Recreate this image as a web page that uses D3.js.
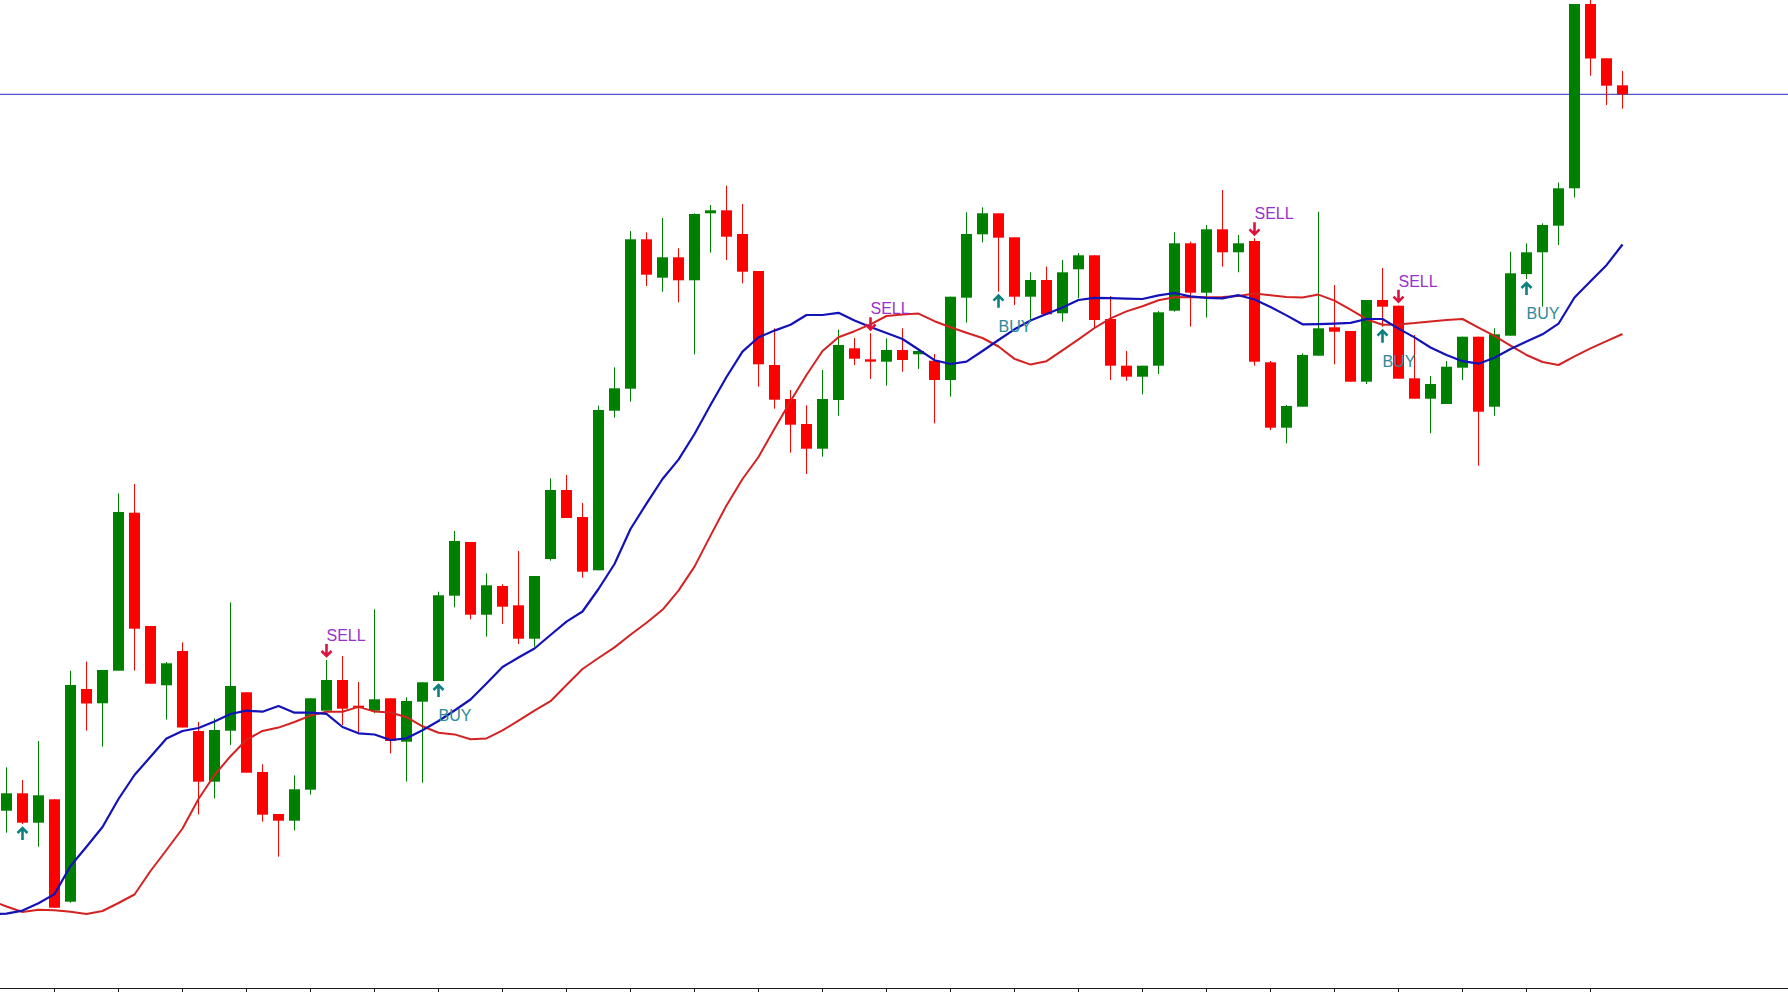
<!DOCTYPE html>
<html>
<head>
<meta charset="utf-8">
<script src="https://cdn.jsdelivr.net/npm/d3@7"></script>
<style>
  html, body { margin: 0; padding: 0; background: #fff; }
  svg { display: block; }
</style>
</head>
<body>
<div id="chart"></div>
<script>
// OHLC per bar, bar index 0..101
const opens = [
  18.93, 20.67, 17.73, 20.07, 9.83, 31.10, 29.67, 32.93, 48.73, 37.40,
  31.47, 34.90, 26.90, 21.83, 26.93, 30.77, 22.80, 18.60, 17.93, 21.03,
  28.93, 32.00, 29.43, 28.93, 30.17, 25.83, 29.83, 31.90, 40.43, 45.80,
  38.53, 41.40, 39.47, 36.13, 44.10, 51.00, 48.30, 42.97, 58.93, 61.13,
  76.07, 72.23, 74.27, 71.97, 78.67, 78.97, 76.60, 72.90, 63.50, 60.10,
  57.60, 55.13, 60.00, 65.17, 64.07, 63.83, 65.00, 64.57, 63.93, 62.00,
  70.23, 76.57, 78.67, 76.27, 70.33, 72.00, 68.67, 73.07, 74.47, 68.10,
  63.43, 62.33, 63.43, 68.93, 75.67, 70.73, 77.07, 74.77, 75.90, 63.77,
  57.23, 59.33, 64.43, 67.27, 66.90, 61.83, 70.00, 69.43, 62.17, 60.13,
  59.60, 63.23, 66.33, 59.33, 66.43, 72.60, 74.77, 77.43, 81.17, 99.60,
  94.17, 91.47
];
const highs = [
  23.27, 22.00, 25.90, 20.07, 32.93, 33.85, 33.00, 50.67, 51.60, 37.40,
  33.80, 35.77, 27.80, 28.17, 39.77, 30.77, 23.57, 18.60, 22.47, 30.17,
  34.00, 34.40, 31.80, 39.07, 30.17, 30.27, 31.77, 40.83, 46.90, 45.80,
  42.67, 41.57, 44.90, 42.40, 52.17, 52.50, 49.70, 59.43, 63.27, 76.90,
  76.77, 78.20, 75.17, 78.67, 79.50, 81.43, 79.60, 72.90, 67.17, 61.00,
  59.47, 63.00, 67.03, 66.20, 66.67, 66.17, 67.17, 65.00, 64.60, 70.33,
  78.77, 79.27, 78.67, 76.27, 72.77, 73.33, 74.00, 74.70, 74.47, 70.40,
  64.90, 63.43, 68.90, 76.77, 75.83, 77.50, 81.00, 76.50, 76.17, 63.90,
  59.50, 64.67, 78.83, 71.50, 66.90, 70.00, 73.20, 69.43, 66.50, 62.40,
  63.90, 66.33, 66.33, 67.17, 74.83, 75.67, 77.67, 81.75, 99.60, 100.40,
  94.17, 92.90
];
const lows = [
  16.73, 17.60, 15.33, 9.23, 9.73, 26.93, 25.33, 32.93, 32.93, 31.63,
  28.05, 27.25, 18.57, 20.17, 25.50, 22.73, 17.83, 14.33, 16.97, 20.53,
  28.93, 27.50, 26.67, 28.67, 24.67, 21.83, 21.73, 31.90, 39.27, 38.07,
  36.33, 37.60, 35.60, 35.33, 43.93, 48.20, 42.23, 42.97, 58.23, 59.83,
  71.40, 70.83, 69.77, 64.57, 74.73, 74.00, 71.67, 61.33, 59.13, 54.73,
  52.60, 54.33, 58.43, 63.50, 62.10, 61.43, 62.83, 63.10, 57.67, 60.33,
  67.73, 75.77, 70.83, 69.50, 67.83, 68.57, 67.83, 70.17, 67.17, 62.00,
  61.93, 60.57, 62.60, 68.83, 67.33, 68.23, 73.33, 72.77, 63.43, 57.00,
  55.67, 59.33, 64.43, 63.57, 61.83, 61.60, 67.33, 62.13, 60.13, 56.67,
  59.60, 62.00, 53.43, 58.43, 66.43, 72.10, 69.33, 75.50, 80.25, 92.43,
  89.50, 89.13
];
const closes = [
  20.67, 17.73, 20.47, 9.23, 31.50, 29.65, 33.00, 48.80, 37.13, 31.63,
  33.67, 27.25, 21.83, 27.00, 31.40, 22.73, 18.53, 17.93, 21.07, 30.17,
  32.00, 29.13, 29.23, 30.07, 25.90, 29.90, 31.77, 40.47, 45.90, 38.53,
  41.47, 39.33, 36.13, 42.40, 51.00, 48.20, 42.83, 59.00, 61.17, 76.07,
  72.53, 74.27, 71.97, 78.60, 78.97, 76.33, 72.83, 63.57, 60.03, 57.53,
  55.13, 60.10, 65.50, 64.13, 63.83, 65.00, 64.00, 64.90, 62.00, 70.33,
  76.60, 78.67, 76.23, 70.33, 72.00, 68.57, 72.77, 74.47, 68.00, 63.43,
  62.33, 63.43, 68.77, 75.67, 70.73, 77.07, 74.77, 75.67, 63.83, 57.23,
  59.40, 64.50, 67.17, 66.83, 61.83, 70.00, 69.33, 62.13, 60.13, 61.60,
  63.33, 66.33, 58.83, 66.57, 72.67, 74.77, 77.50, 81.17, 99.60, 94.15,
  91.43, 90.57
];

// moving averages start one bar before the first visible candle (bar -1)
const maFirstBar = -1;
// fast moving average (blue)
const fastMA = [
  8.58,
  8.63, 8.94, 9.67, 10.59, 13.40, 15.33, 17.30, 20.10, 22.50, 24.32,
  26.15, 26.90, 27.20, 27.84, 28.60, 28.93, 28.83, 29.40, 28.73, 28.73,
  28.62, 27.30, 26.67, 26.55, 26.00, 26.17, 26.98, 27.90, 28.95, 30.05,
  31.65, 33.30, 34.25, 35.15, 36.50, 37.84, 38.85, 41.10, 43.60, 47.10,
  49.64, 52.10, 54.04, 56.60, 59.50, 62.30, 64.84, 66.27, 66.94, 67.53,
  68.50, 68.50, 68.72, 67.94, 67.31, 66.70, 66.10, 65.05, 63.98, 63.60,
  63.83, 64.90, 66.00, 67.07, 67.95, 68.60, 69.25, 70.00, 70.21, 70.18,
  70.14, 70.10, 70.46, 70.70, 70.36, 70.22, 70.17, 70.48, 70.05, 69.31,
  68.46, 67.57, 67.59, 67.64, 67.71, 68.10, 68.10, 67.14, 66.26, 65.25,
  64.50, 63.88, 63.63, 64.23, 65.10, 65.85, 66.57, 67.63, 70.25, 71.88,
  73.48, 75.55
];
// slow moving average (red)
const slowMA = [
  9.97,
  9.35, 8.80, 9.02, 8.98, 8.82, 8.60, 8.90, 9.70, 10.55, 12.90,
  15.00, 17.15, 20.10, 22.50, 24.38, 26.02, 26.91, 27.24, 27.80, 28.44,
  28.83, 28.83, 29.31, 28.84, 28.75, 28.28, 27.37, 26.72, 26.56, 26.07,
  26.16, 26.96, 27.93, 28.93, 29.88, 31.50, 33.10, 34.20, 35.26, 36.52,
  37.73, 39.02, 40.94, 43.34, 46.44, 49.46, 52.10, 54.30, 57.13, 59.87,
  62.50, 64.90, 66.28, 66.88, 67.56, 68.40, 68.54, 68.64, 67.88, 67.28,
  66.72, 66.20, 65.35, 64.11, 63.54, 63.88, 64.97, 66.06, 67.20, 68.17,
  68.86, 69.38, 69.98, 70.28, 70.31, 70.28, 70.31, 70.39, 70.64, 70.47,
  70.31, 70.25, 70.54, 69.94, 69.04, 68.08, 67.52, 67.56, 67.69, 67.86,
  67.99, 68.10, 67.24, 66.42, 65.44, 64.50, 63.80, 63.50, 64.36, 65.17,
  65.88, 66.60
];

const buyBars = [1, 27, 62, 86, 95];
const buyLabels = ['', 'BUY', 'BUY', 'BUY', 'BUY'];
const sellBars = [20, 54, 78, 87];
const sellLabels = ['SELL', 'SELL', 'SELL', 'SELL'];

const levelPrice = 90.57;

const W = 1788, H = 992;
const bodyW = 11;
const upColor = '#008000', downColor = '#ff0000';

const svg = d3.select('#chart')
  .append('svg')
  .attr('width', W)
  .attr('height', H)
  .style('background', '#fff');

const x = d3.scaleLinear().domain([0, 101]).range([6.5, 1622.5]);
const y = d3.scaleLinear().domain([0, 100]).range([1000, 0]);

const bars = d3.range(opens.length).map((i) => ({
  i, o: opens[i], h: highs[i], l: lows[i], c: closes[i]
}));

// bottom axis: no labels, just ticks
const xAxis = d3.axisBottom(x)
  .tickValues(d3.range(3, 101, 4))
  .tickFormat('')
  .tickSize(5)
  .tickSizeOuter(0)
  .offset(0);

const axisG = svg.append('g')
  .attr('transform', `translate(0,${H - 3.5})`)
  .call(xAxis);
axisG.select('.domain').attr('d', `M0,0H${W}`).attr('stroke', '#1a1a1a');
axisG.selectAll('.tick line').attr('stroke', '#1a1a1a');

// horizontal price level
svg.append('line')
  .attr('x1', 0)
  .attr('x2', W)
  .attr('y1', y(levelPrice))
  .attr('y2', y(levelPrice))
  .attr('stroke', '#1f2fbf')
  .attr('stroke-width', 1);

// candles
const candle = svg.append('g').selectAll('g')
  .data(bars)
  .join('g')
  .attr('fill', (d) => (d.c >= d.o ? upColor : downColor))
  .attr('stroke', (d) => (d.c >= d.o ? upColor : downColor));

candle.append('line')
  .attr('x1', (d) => x(d.i))
  .attr('x2', (d) => x(d.i))
  .attr('y1', (d) => y(d.h))
  .attr('y2', (d) => y(d.l))
  .attr('stroke-width', 1);

candle.append('rect')
  .attr('x', (d) => x(d.i) - bodyW / 2)
  .attr('width', bodyW)
  .attr('y', (d) => y(Math.max(d.o, d.c)))
  .attr('height', (d) => Math.max(2, Math.abs(y(d.o) - y(d.c))))
  .attr('stroke', 'none');

// moving averages
const line = d3.line()
  .x((d, i) => x(i + maFirstBar))
  .y((d) => y(d));

svg.append('path')
  .datum(slowMA)
  .attr('fill', 'none')
  .attr('stroke', '#d42222')
  .attr('stroke-width', 2)
  .attr('stroke-linejoin', 'round')
  .attr('d', line);

svg.append('path')
  .datum(fastMA)
  .attr('fill', 'none')
  .attr('stroke', '#1212b8')
  .attr('stroke-width', 2.2)
  .attr('stroke-linejoin', 'round')
  .attr('d', line);

// signals
const font = '"Liberation Sans", Arial, sans-serif';

const sell = svg.append('g').selectAll('g')
  .data(sellBars.map((b, k) => ({ b, t: sellLabels[k] })))
  .join('g');

sell.append('path')
  .attr('d', (d) => {
    const cx = x(d.b), tip = y(highs[d.b]) - 4;
    return `M${cx},${tip - 12}V${tip}M${cx - 5},${tip - 5}L${cx},${tip}L${cx + 5},${tip - 5}`;
  })
  .attr('fill', 'none')
  .attr('stroke', '#dc143c')
  .attr('stroke-width', 2.6);

sell.append('text')
  .attr('x', (d) => x(d.b))
  .attr('y', (d) => y(highs[d.b]) - 19)
  .attr('fill', '#9932cc')
  .style('font-family', font)
  .style('font-size', '16px')
  .text((d) => d.t);

const buy = svg.append('g').selectAll('g')
  .data(buyBars.map((b, k) => ({ b, t: buyLabels[k] })))
  .join('g');

buy.append('path')
  .attr('d', (d) => {
    const cx = x(d.b), tip = y(lows[d.b]) + 4;
    return `M${cx},${tip + 12}V${tip}M${cx - 5},${tip + 5}L${cx},${tip}L${cx + 5},${tip + 5}`;
  })
  .attr('fill', 'none')
  .attr('stroke', '#0e8080')
  .attr('stroke-width', 2.6);

buy.append('text')
  .attr('x', (d) => x(d.b))
  .attr('y', (d) => y(lows[d.b]) + 40)
  .attr('fill', '#2a8a9a')
  .style('font-family', font)
  .style('font-size', '16px')
  .text((d) => d.t);
</script>
</body>
</html>
